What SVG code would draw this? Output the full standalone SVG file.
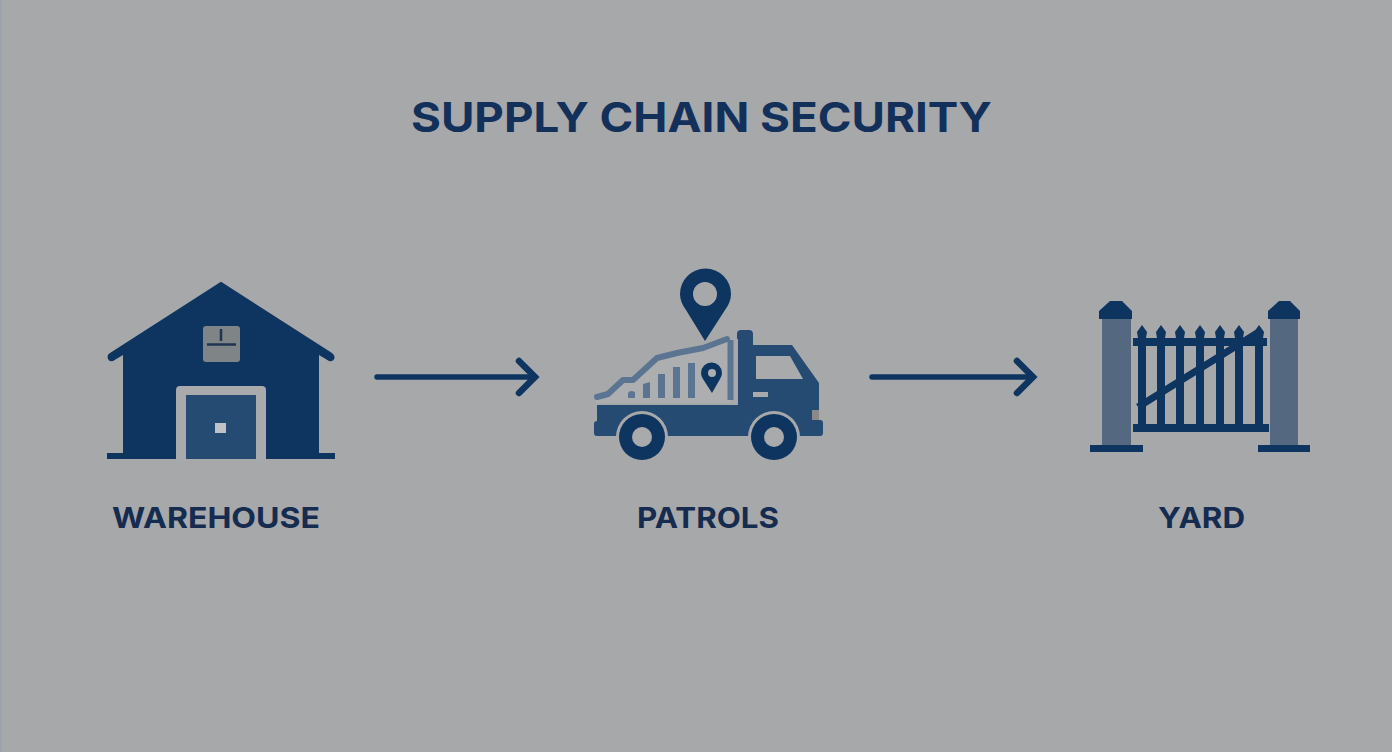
<svg xmlns="http://www.w3.org/2000/svg" width="1392" height="752" viewBox="0 0 1392 752">
<defs>
<marker id="head" viewBox="0 0 30 44" refX="20" refY="22" markerWidth="30" markerHeight="44" markerUnits="userSpaceOnUse" orient="auto"><path d="M4 6L20 22L4 38" fill="none" stroke="#0e3460" stroke-width="6.500" stroke-linecap="round" stroke-linejoin="miter"/></marker>
</defs>
<style>
text{font-family:"Inter","Liberation Sans",sans-serif;font-weight:700;fill:#12305a;text-anchor:middle}
.lab{font-size:29px;fill:#152c50}
.navy{fill:#0e3460}
.mid{fill:#264b73}
.post{fill:#54697f}
.bgc{fill:#a9aaac}
.bar{fill:#5a7492}
.conn{fill:none;stroke:#0e3460;stroke-width:5.500;stroke-linecap:round;marker-end:url(#head)}
</style>
<rect width="1392" height="752" fill="#a7a8aa"/>
<rect width="2" height="752" fill="#9aa3ae"/>
<text id="title" x="701.500" y="132" font-size="41" textLength="581" lengthAdjust="spacingAndGlyphs">SUPPLY CHAIN SECURITY</text>
<g id="warehouse">
<path class="navy" d="M123 355L113 361Q108 362 107.500 357Q107.500 354 110 353L219 283Q221 281 223 283L332 353Q335 355 334.500 358Q333 362 329 361L319 355V453H335V459H107V453H123Z"/>
<rect x="203" y="326" width="37" height="36" rx="3" fill="#7f8487"/>
<path d="M221 329V341M207 344.500H236" stroke="#1e3450" stroke-width="2.500" fill="none"/>
<path class="bgc" d="M176 460V390Q176 386 180 386H262Q266 386 266 390V460Z"/>
<rect class="mid" x="186" y="395" width="70" height="64"/>
<rect x="215" y="423" width="11" height="10" fill="#c0c2c5"/>
<text class="lab" x="216" y="528" textLength="208" lengthAdjust="spacingAndGlyphs">WAREHOUSE</text>
</g>
<g id="patrols">
<path class="navy" fill-rule="evenodd" d="M705 341L686 310Q680 302 680 294A25.500 25.500 0 0 1 731 294Q731 302 725 310ZM717 294A12 12 0 1 0 693 294A12 12 0 1 0 717 294Z"/>
<path fill="#adaeb0" d="M596 400L608 394L623 380L633 380L657 358L677 353L703 348L729 339L731 403H596Z"/>
<path fill="none" stroke="#5a7492" stroke-width="6" stroke-linejoin="round" stroke-linecap="round" d="M597 397L608 394L623 380L633 380L657 358L677 353L703 348L727 339"/>
<path fill="none" stroke="#5a7492" stroke-width="6" d="M730.500 340V400"/>
<path class="bar" d="M628 398V394Q628 391 632 391L635 392V398ZM643 384L650 382V398H643ZM658 374H665V398H658ZM673 367H680V398H673ZM688 363H695V398H688Z"/>
<path class="navy" fill-rule="evenodd" d="M712 393L703 379Q701 376 701 373A10.500 10.500 0 0 1 722 373Q722 376 720 379ZM716 373A4 4 0 1 0 708 373A4 4 0 1 0 716 373Z"/>
<path class="mid" d="M737 334Q737 330 741 330H749Q753 330 753 334V345H792L819 383V410H812V420H820Q823 420 823 423V433Q823 436 820 436H800V437A26 26 0 0 0 748 437V436H668V437A26 26 0 0 0 616 437V436H597Q594 436 594 433V424Q594 421 597 421V405H738V339H737Z"/>
<rect x="812" y="410" width="7" height="10" fill="#8a8a88"/>
<path class="bgc" d="M756 356H790L803 379H756Z"/>
<rect class="bgc" x="753" y="392" width="15" height="5"/>
<circle class="navy" cx="642" cy="437" r="23"/><circle class="bgc" cx="642" cy="437" r="10"/>
<circle class="navy" cx="774" cy="437" r="23"/><circle class="bgc" cx="774" cy="437" r="10"/>
<text class="lab" x="708" y="528" textLength="142" lengthAdjust="spacingAndGlyphs">PATROLS</text>
</g>
<g id="yard">
<rect class="post" x="1102" y="319" width="29" height="126"/>
<path class="navy" d="M1099 319V311L1110 301H1122L1132 311V319ZM1090 445H1143V452H1090Z"/>
<rect class="post" x="1270" y="319" width="28" height="126"/>
<path class="navy" d="M1268 319V311L1279 301H1290L1300 311V319ZM1258 445H1310V452H1258Z"/>
<path class="navy" d="M1142 325L1147 332L1146 338V425H1138V338L1137 332ZM1161 325L1166 332L1165 338V425H1157V338L1156 332ZM1180 325L1185 332L1184 338V425H1176V338L1175 332ZM1200 325L1205 332L1204 338V425H1196V338L1195 332ZM1220 325L1225 332L1224 338V425H1216V338L1215 332ZM1239 325L1244 332L1243 338V425H1235V338L1234 332ZM1259 325L1264 332L1263 338V425H1255V338L1254 332Z"/>
<rect class="navy" x="1133" y="338" width="134" height="8"/>
<rect class="navy" x="1133" y="424" width="136" height="8"/>
<path d="M1138 407L1262 330" stroke="#0e3460" stroke-width="7" fill="none"/>
<text class="lab" x="1201.500" y="528" textLength="87" lengthAdjust="spacingAndGlyphs">YARD</text>
</g>
<g id="connectors">
<path class="conn" d="M377 377H535"/>
<path class="conn" d="M872 377H1033"/>
</g>
</svg>
